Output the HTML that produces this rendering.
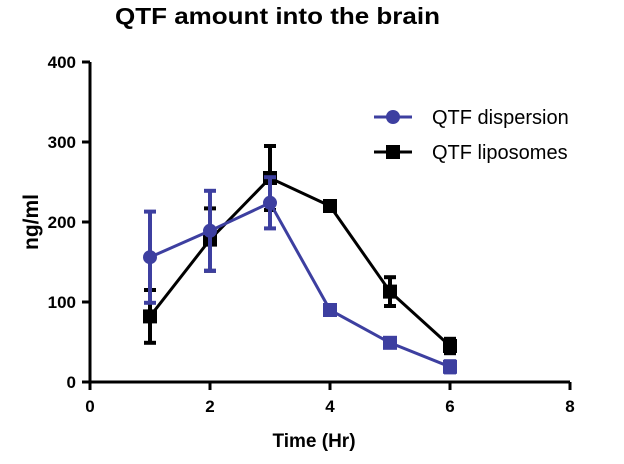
<!DOCTYPE html>
<html><head><meta charset="utf-8"><style>
body{margin:0;background:#fff;width:624px;height:459px;overflow:hidden;font-family:"Liberation Sans",sans-serif}
</style></head><body>
<svg id="chart" width="624" height="459" xmlns="http://www.w3.org/2000/svg" font-family="Liberation Sans, sans-serif">
<text x="115" y="24" textLength="325" lengthAdjust="spacingAndGlyphs" font-size="23" font-weight="bold">QTF amount into the brain</text>
<text transform="translate(38,222) rotate(-90)" text-anchor="middle" font-size="21" font-weight="bold">ng/ml</text>
<text x="314" y="447" text-anchor="middle" font-size="19" font-weight="bold">Time (Hr)</text>
<g id="axes"></g><g id="series"></g>
<g>
<line x1="374" y1="117" x2="412" y2="117" stroke="#3d3fa0" stroke-width="3"/>
<circle cx="393" cy="117" r="7" fill="#3d3fa0"/>
<text x="432" y="124" font-size="20">QTF dispersion</text>
<line x1="374" y1="152" x2="412" y2="152" stroke="#000" stroke-width="3"/>
<rect x="386" y="145" width="14" height="14" fill="#000"/>
<text x="432" y="159" font-size="20">QTF liposomes</text>
</g>
</svg>
<script>
const times=[1,2,3,4,5,6];
const dispMean=[156,189,224,90,49,19];
const dispErr=[57,50,32,6,5,7];
const lipoMean=[82,178,255,220,113,45];
const lipoErr=[33,39,40,5,18,9];
const xTicks=[0,2,4,6,8];
const yTicks=[0,100,200,300,400];
const NS='http://www.w3.org/2000/svg';
const X=v=>90+v*60, Y=v=>382-v*0.8;
function mk(t,a,p){const e=document.createElementNS(NS,t);for(const k in a)e.setAttribute(k,a[k]);p.appendChild(e);return e;}
const ax=document.getElementById('axes');
let yl=mk('line',{x1:90,y1:Y(400),x2:90,y2:383,stroke:'#000','stroke-width':3},ax);


let xl=mk('line',{x1:89,y1:382,x2:X(8),y2:382,stroke:'#000','stroke-width':3},ax);


yTicks.forEach(t=>{mk('line',{x1:82,y1:Y(t),x2:90,y2:Y(t),stroke:'#000','stroke-width':3},ax);
 const tx=mk('text',{x:76,y:Y(t)+6,'text-anchor':'end','font-size':17,'font-weight':'bold'},ax);tx.textContent=t;
 
 });
xTicks.forEach(t=>{mk('line',{x1:X(t),y1:382,x2:X(t),y2:390,stroke:'#000','stroke-width':3},ax);
 const tx=mk('text',{x:X(t),y:412,'text-anchor':'middle','font-size':17,'font-weight':'bold'},ax);tx.textContent=t;
 
 });
const sg=document.getElementById('series');
function draw(mean,err,color,name,shape){
 const g=mk('g',{},sg);
 
 
 mk('polyline',{points:times.map((t,i)=>X(t)+','+Y(mean[i])).join(' '),fill:'none',stroke:color,'stroke-width':3},g);
 times.forEach((t,i)=>{
  const x=X(t),y1=Y(mean[i]+err[i]),y2=Y(mean[i]-err[i]);
  mk('line',{x1:x,y1:y1,x2:x,y2:y2,stroke:color,'stroke-width':4},g);
  mk('line',{x1:x-6,y1:y1,x2:x+6,y2:y1,stroke:color,'stroke-width':4},g);
  mk('line',{x1:x-6,y1:y2,x2:x+6,y2:y2,stroke:color,'stroke-width':4},g);
  let m;
  if(shape==='circle'&&i<3) m=mk('circle',{cx:x,cy:Y(mean[i]),r:7,fill:color},g);
  else m=mk('rect',{x:x-7,y:Y(mean[i])-7,width:14,height:14,fill:color},g);
  
  
 });
}
draw(lipoMean,lipoErr,'#000','series-liposomes','square');
draw(dispMean,dispErr,'#3d3fa0','series-dispersion','circle');
</script>
</body></html>
